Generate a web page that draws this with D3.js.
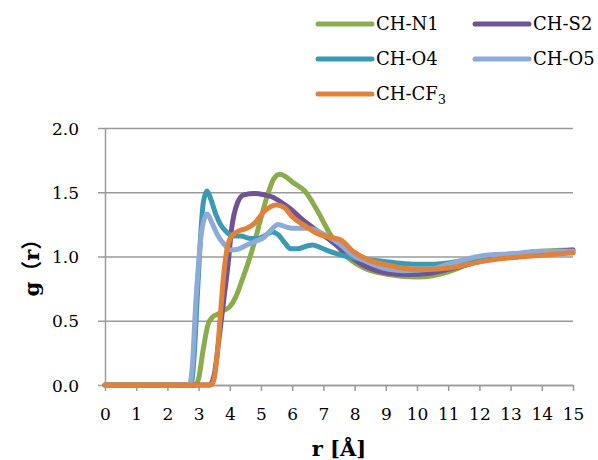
<!DOCTYPE html>
<html>
<head>
<meta charset="utf-8">
<script src="https://cdn.jsdelivr.net/npm/d3@7"></script>
<style>
  body { margin: 0; background: #fff; }
  svg { display: block; }
</style>
</head>
<body>
<div id="chart"></div>
<script>
var W = 598, H = 460;

// series data (r in Å, g(r))
var rN1 = [0, 2.9, 3.0, 3.15, 3.3, 3.45, 3.6, 3.8, 4.0, 4.2, 4.4, 4.6, 4.8, 5.0, 5.2, 5.4, 5.6, 5.8, 6.0, 6.4, 6.8, 7.2, 7.75, 8.3, 9.1, 10.0, 10.5, 11, 12, 13, 14, 15];
var gN1 = [0, 0, 0.05, 0.28, 0.47, 0.53, 0.55, 0.58, 0.61, 0.69, 0.82, 0.96, 1.12, 1.30, 1.47, 1.60, 1.64, 1.62, 1.58, 1.51, 1.36, 1.18, 1.0, 0.91, 0.86, 0.84, 0.85, 0.88, 0.97, 1.01, 1.04, 1.05];

var rS2 = [0, 3.35, 3.5, 3.65, 3.8, 3.95, 4.05, 4.25, 4.45, 4.8, 5.1, 5.4, 5.6, 5.9, 6.36, 6.8, 7.2, 7.75, 8.3, 9.1, 9.7, 10.4, 11, 12, 13, 14, 15];
var gS2 = [0, 0, 0.08, 0.35, 0.65, 0.95, 1.20, 1.42, 1.48, 1.49, 1.48, 1.46, 1.43, 1.38, 1.28, 1.20, 1.13, 1.02, 0.93, 0.87, 0.86, 0.87, 0.90, 0.96, 1.0, 1.03, 1.05];

var rO4 = [0, 2.75, 2.85, 2.95, 3.05, 3.15, 3.27, 3.4, 3.55, 3.7, 3.9, 4.1, 4.35, 4.65, 4.9, 5.1, 5.35, 5.55, 5.75, 5.95, 6.15, 6.45, 6.65, 6.9, 7.2, 7.75, 8.6, 9.35, 10.0, 10.5, 11, 12, 13, 14, 15];
var gO4 = [0, 0, 0.2, 0.65, 1.1, 1.42, 1.51, 1.44, 1.33, 1.25, 1.19, 1.16, 1.16, 1.14, 1.14, 1.16, 1.19, 1.17, 1.11, 1.06, 1.06, 1.08, 1.09, 1.07, 1.04, 1.0, 0.97, 0.95, 0.94, 0.94, 0.95, 0.99, 1.02, 1.03, 1.03];

var rO5 = [0, 2.7, 2.8, 2.9, 3.0, 3.1, 3.27, 3.45, 3.6, 3.8, 4.05, 4.3, 4.55, 4.85, 5.1, 5.3, 5.55, 5.8, 6.0, 6.5, 6.8, 7.1, 7.45, 7.95, 8.5, 9.1, 9.6, 10.4, 11, 12.2, 13, 14, 15];
var gO5 = [0, 0, 0.15, 0.6, 0.95, 1.2, 1.33, 1.25, 1.17, 1.10, 1.05, 1.06, 1.09, 1.12, 1.15, 1.20, 1.25, 1.23, 1.22, 1.22, 1.20, 1.16, 1.11, 1.01, 0.95, 0.90, 0.89, 0.90, 0.94, 1.01, 1.02, 1.04, 1.04];

var rCF3 = [0, 3.4, 3.5, 3.6, 3.7, 3.8, 3.95, 4.1, 4.3, 4.55, 4.8, 5.1, 5.5, 5.75, 6.0, 6.4, 6.8, 7.2, 7.55, 7.95, 8.5, 9.1, 10.0, 10.4, 11, 12.3, 13, 14, 15];
var gCF3 = [0, 0, 0.05, 0.25, 0.55, 0.85, 1.10, 1.17, 1.20, 1.22, 1.26, 1.35, 1.40, 1.38, 1.31, 1.24, 1.18, 1.15, 1.13, 1.04, 0.97, 0.93, 0.90, 0.90, 0.91, 0.97, 0.99, 1.01, 1.03];

var seriesNames = ["CH-N1", "CH-S2", "CH-O4", "CH-O5", "CH-CF3"];
var seriesR = [rN1, rS2, rO4, rO5, rCF3];
var seriesG = [gN1, gS2, gO4, gO5, gCF3];
var colors = ["#8aac4c", "#6e5494", "#3b9ab2", "#8eaad6", "#e0823a"];

var xTicks = d3.range(0, 16, 1);
var yTicks = [0, 0.5, 1.0, 1.5, 2.0];

var serif = "'DejaVu Serif', 'Liberation Serif', serif";
var gridColor = "#9a9a9a";

var plotLeft = 105, plotRight = 573, plotTop = 128, plotBottom = 385;

var x = d3.scaleLinear().domain([0, 15]).range([plotLeft, plotRight]);
var y = d3.scaleLinear().domain([0, 2]).range([plotBottom, plotTop]);

var svg = d3.select("#chart").append("svg")
	.attr("width", W)
	.attr("height", H);

// y axis + gridlines
var yAxis = svg.append("g")
	.attr("transform", "translate(" + plotLeft + ",0)")
	.call(d3.axisLeft(y).tickValues(yTicks).tickFormat(d3.format(".1f")).tickSizeOuter(0));
yAxis.select(".domain").attr("stroke", gridColor).attr("stroke-width", 1.5);
yAxis.selectAll(".tick line")
	.attr("x1", -7)
	.attr("x2", plotRight - plotLeft)
	.attr("stroke", gridColor)
	.attr("stroke-width", 1.5);
yAxis.selectAll(".tick text")
	.attr("x", -26)
	.attr("dy", "0.36em")
	.style("font-family", serif)
	.style("font-size", "17px")
	.attr("fill", "#000");

// x axis
var xAxis = svg.append("g")
	.attr("transform", "translate(0," + plotBottom + ")")
	.call(d3.axisBottom(x).tickValues(xTicks).tickFormat(d3.format("d")).tickSize(6).tickSizeOuter(0));
xAxis.select(".domain").attr("stroke", gridColor).attr("stroke-width", 1.5);
xAxis.selectAll(".tick line").attr("stroke", gridColor).attr("stroke-width", 1.5);
xAxis.selectAll(".tick text")
	.attr("y", 29)
	.attr("dy", "0.36em")
	.style("font-family", serif)
	.style("font-size", "17px")
	.attr("fill", "#000");

// curves
var line = d3.line()
	.x(d => x(d[0]))
	.y(d => y(d[1]))
	.curve(d3.curveMonotoneX);

for(let i = 0; i < seriesNames.length; i++) {
	var pts = seriesR[i].map((r, j) => [r, seriesG[i][j]]);
	svg.append("path")
		.datum(pts)
		.attr("d", line)
		.attr("fill", "none")
		.attr("stroke", colors[i])
		.attr("stroke-width", 5)
		.attr("stroke-linejoin", "round")
		.attr("stroke-linecap", "round");
}

// axis titles
svg.append("text")
	.attr("x", (plotLeft + plotRight) / 2)
	.attr("y", 456)
	.attr("text-anchor", "middle")
	.style("font-family", serif)
	.style("font-size", "21px")
	.style("font-weight", "bold")
	.text("r [Å]");

svg.append("text")
	.attr("transform", "translate(31," + ((plotTop + plotBottom) / 2 + 6) + ") rotate(-90)")
	.attr("text-anchor", "middle")
	.attr("dominant-baseline", "central")
	.style("font-family", "'DejaVu Serif', 'Noto Sans CJK JP', serif")
	.style("font-size", "21px")
	.style("font-weight", "bold")
	.text("g（r）");

// legend
var legendPos = [[318, 24], [475, 24], [318, 59], [475, 59], [318, 94]];
for(let i = 0; i < seriesNames.length; i++) {
	var lx = legendPos[i][0], ly = legendPos[i][1];
	svg.append("line")
		.attr("x1", lx).attr("x2", lx + 54)
		.attr("y1", ly).attr("y2", ly)
		.attr("stroke", colors[i])
		.attr("stroke-width", 5)
		.attr("stroke-linecap", "round");
	var t = svg.append("text")
		.attr("x", lx + 58)
		.attr("y", ly)
		.attr("dy", "0.36em")
		.style("font-family", serif)
		.style("font-size", "18px")
		.attr("fill", "#000");
	if(seriesNames[i] === "CH-CF3") {
		t.append("tspan").text("CH-CF");
		t.append("tspan").attr("dy", "0.3em").style("font-size", "13px").text("3");
	} else {
		t.text(seriesNames[i]);
	}
}
</script>
</body>
</html>
